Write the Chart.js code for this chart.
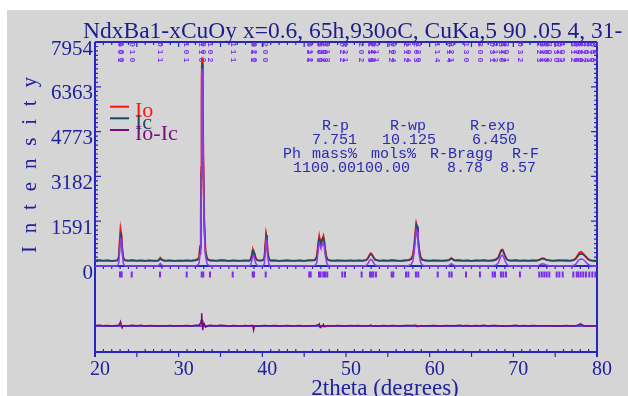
<!DOCTYPE html>
<html>
<head>
<meta charset="utf-8">
<script src="https://cdn.jsdelivr.net/npm/chart.js@4.4.0/dist/chart.umd.min.js"></script>
<style>
  html, body { margin: 0; padding: 0; background: #fff; }
  #wrap { position: absolute; left: 7px; top: 10px; width: 621px; height: 386px; background: #d5d5d5; }
</style>
</head>
<body>
<div id="wrap"><canvas id="c" width="621" height="386"></canvas></div>
<script>
'use strict';

// 2theta grid (degrees)
const tth = [
  20.0, 20.5, 21.0, 21.5, 22.0, 22.5, 22.7, 22.85, 22.95, 23.05, 23.15, 23.25, 23.35, 23.5, 23.7,
  24.0, 24.4, 25.0, 25.5, 26.0, 26.5, 27.0, 27.5, 27.65, 27.8, 27.95, 28.3, 29.0, 29.5, 30.0,
  30.5, 31.0, 31.5, 32.0, 32.3, 32.45, 32.55, 32.65, 32.7, 32.75, 32.8, 32.85, 32.9, 32.95, 33.05,
  33.2, 33.4, 33.7, 34.0, 34.5, 35.0, 35.5, 36.0, 36.5, 37.0, 37.5, 38.0, 38.4, 38.6, 38.75,
  38.85, 38.95, 39.05, 39.2, 39.4, 39.8, 40.1, 40.25, 40.35, 40.45, 40.55, 40.65, 40.8, 41.0, 41.5,
  42.0, 42.5, 43.0, 43.5, 44.0, 44.5, 45.0, 45.5, 46.0, 46.3, 46.5, 46.6, 46.7, 46.8, 46.9,
  47.0, 47.1, 47.2, 47.3, 47.4, 47.5, 47.65, 47.8, 48.0, 48.5, 49.0, 49.5, 50.0, 50.5, 51.0,
  51.5, 52.0, 52.4, 52.6, 52.8, 52.95, 53.1, 53.3, 53.5, 54.0, 54.5, 55.0, 55.5, 56.0, 56.5,
  57.0, 57.5, 57.8, 58.0, 58.15, 58.3, 58.4, 58.5, 58.6, 58.75, 58.9, 59.1, 59.5, 60.0, 60.5,
  61.0, 61.5, 62.0, 62.3, 62.45, 62.6, 62.75, 63.0, 63.5, 64.0, 64.5, 65.0, 65.5, 66.0, 66.5,
  67.0, 67.5, 67.9, 68.2, 68.4, 68.55, 68.7, 68.85, 69.0, 69.2, 69.4, 69.8, 70.3, 70.8, 71.3,
  71.8, 72.3, 72.8, 73.1, 73.3, 73.5, 73.7, 73.9, 74.3, 74.8, 75.3, 75.8, 76.3, 76.8, 77.2,
  77.5, 77.7, 77.9, 78.1, 78.3, 78.5, 78.7, 78.9, 79.2, 79.5, 80.0
];
// observed intensity Io
const iObs = [
  200, 215, 190, 205, 180, 200, 210, 330, 840, 1300, 1120, 620, 330, 215, 200,
  195, 215, 190, 205, 175, 200, 190, 185, 215, 285, 230, 190, 205, 180, 195,
  190, 200, 185, 215, 250, 320, 700, 1700, 3500, 6550, 7400, 7100, 5450, 3800, 1650,
  520, 240, 215, 205, 190, 210, 200, 175, 205, 190, 185, 200, 190, 230, 400,
  560, 420, 450, 290, 200, 195, 215, 300, 700, 1100, 900, 480, 240, 200, 205,
  180, 195, 200, 185, 190, 205, 180, 205, 200, 220, 330, 560, 850, 1050, 880,
  820, 860, 980, 1060, 870, 600, 330, 230, 200, 190, 200, 195, 185, 200, 190,
  205, 185, 215, 270, 380, 450, 410, 300, 220, 190, 205, 185, 210, 195, 180,
  200, 215, 260, 380, 700, 1200, 1500, 1380, 1000, 560, 330, 230, 200, 190, 205,
  195, 185, 200, 215, 250, 280, 240, 200, 210, 190, 205, 180, 200, 195, 210,
  185, 205, 230, 300, 450, 560, 580, 480, 360, 250, 205, 195, 210, 190, 200,
  185, 205, 195, 220, 250, 275, 260, 225, 200, 190, 205, 195, 200, 185, 210,
  280, 380, 480, 500, 450, 380, 320, 250, 200, 190, 195
];
// calculated intensity Ic
const iCalc = [
  185, 185, 184, 184, 184, 186, 195, 300, 760, 1150, 1100, 680, 320, 205, 190,
  184, 188, 183, 183, 183, 183, 183, 185, 215, 275, 220, 186, 183, 183, 183,
  183, 184, 186, 192, 220, 290, 620, 1560, 3300, 6100, 7200, 7050, 5600, 3700, 1560,
  560, 250, 190, 186, 184, 184, 184, 184, 188, 184, 184, 184, 188, 215, 380,
  540, 560, 460, 280, 200, 186, 200, 280, 680, 1080, 880, 470, 230, 190, 185,
  184, 184, 184, 184, 184, 184, 185, 192, 192, 205, 300, 520, 820, 980, 930,
  840, 880, 980, 1010, 900, 620, 340, 225, 195, 186, 185, 188, 188, 184, 184,
  185, 186, 205, 265, 370, 420, 400, 300, 215, 186, 184, 184, 195, 185, 184,
  186, 200, 240, 360, 680, 1170, 1480, 1400, 1020, 570, 320, 220, 188, 184, 184,
  186, 184, 186, 205, 240, 265, 235, 195, 186, 184, 188, 184, 184, 188, 184,
  184, 190, 215, 290, 440, 550, 570, 490, 370, 250, 200, 186, 186, 188, 184,
  184, 184, 188, 215, 245, 265, 250, 220, 195, 186, 195, 192, 184, 186, 200,
  260, 350, 420, 430, 420, 380, 320, 250, 200, 186, 184
];
// single-phase contribution without background
const iNet = [
  0, 0, 0, 0, 0, 2, 12, 118, 578, 968, 918, 498, 138, 22, 6,
  0, 4, 0, 0, 0, 0, 0, 2, 32, 92, 37, 3, 0, 0, 0,
  0, 1, 3, 9, 37, 107, 437, 1377, 3117, 5917, 7017, 6867, 5417, 3517, 1377,
  377, 67, 6, 2, 0, 0, 0, 0, 4, 0, 0, 0, 4, 31, 196,
  356, 376, 276, 96, 16, 2, 16, 96, 496, 896, 696, 286, 46, 6, 1,
  0, 0, 0, 0, 0, 0, 1, 8, 8, 21, 116, 336, 636, 796, 746,
  656, 696, 796, 826, 716, 436, 156, 41, 11, 2, 1, 4, 4, 0, 0,
  1, 2, 21, 81, 186, 236, 216, 116, 31, 2, 0, 0, 11, 1, 0,
  2, 16, 56, 176, 496, 986, 1296, 1216, 836, 386, 136, 36, 4, 0, 0,
  2, 0, 2, 21, 56, 81, 51, 11, 2, 0, 4, 0, 0, 4, 0,
  0, 6, 31, 106, 256, 366, 386, 306, 186, 66, 16, 2, 2, 4, 0,
  0, 0, 4, 31, 61, 81, 66, 36, 11, 2, 11, 8, 0, 2, 16,
  76, 166, 236, 246, 236, 196, 136, 66, 16, 2, 0
];
// difference Io-Ic
const iDiff = [
  15, 30, 6, 21, -4, 14, 15, 30, 80, 150, 20, -60, 10, 10, 10,
  11, 27, 7, 22, -8, 17, 7, 0, 0, 10, 10, 4, 22, -3, 12,
  7, 16, -1, 23, 30, 30, 80, 140, 200, 450, 200, 50, -150, 100, 90,
  -40, -10, 25, 19, 6, 26, 16, -9, 17, 6, 1, 16, 2, 15, 20,
  20, -140, -10, 10, 0, 9, 15, 20, 20, 20, 20, 10, 10, 10, 20,
  -4, 11, 16, 1, 6, 21, -5, 13, 8, 15, 30, 40, 30, 70, -50,
  -20, -20, 0, 50, -30, -20, -10, 5, 5, 4, 15, 7, -3, 16, 6,
  20, -1, 10, 5, 10, 30, 10, 0, 5, 4, 21, 1, 15, 10, -4,
  14, 15, 20, 20, 20, 30, 20, -20, -20, -10, 10, 10, 12, 6, 21,
  9, 1, 14, 10, 10, 15, 5, 5, 24, 6, 17, -4, 16, 7, 26,
  1, 15, 15, 10, 10, 10, 10, -10, -10, 0, 5, 9, 24, 2, 16,
  1, 21, 7, 5, 5, 10, 10, 5, 5, 4, 10, 3, 16, -1, 10,
  20, 30, 60, 70, 30, 0, 0, 0, 0, 4, 11
];
// Bragg reflection positions (2theta) and their index labels
const braggPos = [
  22.99, 23.19, 24.39, 27.77, 30.96, 32.75, 32.94, 33.74, 36.46, 38.85, 39.0, 40.4,
  45.61, 45.78, 46.77, 46.97, 47.29, 47.49, 47.76, 49.56, 49.88, 51.87, 52.87, 53.07,
  53.26, 53.58, 55.46, 55.65, 57.17, 57.45, 58.36, 58.64, 60.96, 62.35, 62.63, 64.34,
  66.01, 67.53, 67.81, 68.52, 68.8, 69.12, 70.79, 73.1, 73.4, 73.7, 73.98, 74.3,
  75.18, 75.5, 75.9, 77.17, 77.57, 77.76, 78.05, 78.36, 78.68, 79.08, 79.44, 79.8
];
const braggHkl = [
  '001', '100', '010', '011', '101', '110', '002', '102', '111', '012', '020', '200',
  '021', '112', '003', '120', '201', '103', '013', '022', '121', '202', '113', '210',
  '023', '211', '122', '004', '212', '104', '203', '220', '114', '014', '221', '130',
  '300', '031', '213', '310', '222', '301', '032', '123', '311', '131', '005', '302',
  '230', '024', '105', '312', '015', '132', '320', '223', '204', '313', '040', '321'
];
const yTicks = [0, 1591, 3182, 4773, 6363, 7954];
const title = 'NdxBa1-xCuOy x=0.6, 65h,930oC, CuKa,5 90 .05 4, 31-';
const legendNames = ['Io', 'Ic', 'Io-Ic'];
// R-factor block: [text, x, baseline]
const rBlock = [
  ['R-p', 315, 120], ['R-wp', 383, 120], ['R-exp', 463, 120],
  ['7.751', 305, 133.5], ['10.125', 375, 133.5], ['6.450', 465, 133.5],
  ['Ph', 276, 148], ['mass%', 305, 148], ['mols%', 364, 148], ['R-Bragg', 423, 148], ['R-F', 505, 148],
  ['1100.00100.00', 286, 162], ['8.78', 440, 162], ['8.57', 493, 162]
];

const obsRed = '#ff1414';
const calcColor = '#1f4a66';
const netViolet = '#8a3cf5';
const diffPurple = '#7a0a7a';
const braggViolet = '#7a2cf0';
const axisBlue = '#2626c0';
const textBlue = '#20209e';
const serif = "'Liberation Serif', 'DejaVu Serif', serif";

// panel geometry (canvas px)
const areaTop = 32, areaBottom = 342, upperBase = 256, diffZero = 316;
const perPx = yTicks[yTicks.length - 1] / (upperBase - areaTop);
const braggLevel = -8.5 * perPx;

const pts = (ys) => tth.map((t, i) => ({ x: t, y: ys[i] }));

const framePlugin = {
    id: 'frame',
    beforeDatasetsDraw(chart) {
        const { ctx, chartArea: a } = chart;
        const x = chart.scales.x, y = chart.scales.y;
        const base = y.getPixelForValue(0);
        const zero = chart.scales.yd.getPixelForValue(0);
        ctx.save();
        ctx.strokeStyle = axisBlue;
        ctx.lineWidth = 2;
        ctx.beginPath();
        ctx.moveTo(a.left, a.top); ctx.lineTo(a.right, a.top);
        ctx.moveTo(a.left, base); ctx.lineTo(a.right, base);
        ctx.moveTo(a.left, a.bottom); ctx.lineTo(a.right, a.bottom);
        ctx.moveTo(a.left, a.top); ctx.lineTo(a.left, a.bottom + 5);
        ctx.moveTo(a.right, a.top); ctx.lineTo(a.right, a.bottom + 5);
        ctx.stroke();
        ctx.lineWidth = 1.5;
        ctx.beginPath();
        ctx.moveTo(a.left, zero); ctx.lineTo(a.right, zero);
        ctx.stroke();
        // ticks
        ctx.lineWidth = 1.2;
        ctx.beginPath();
        for (let t = 20; t <= 80; t++) {
            const px = x.getPixelForValue(t);
            const five = t % 5 === 0;
            ctx.moveTo(px, a.top); ctx.lineTo(px, a.top + (five ? 5 : 3));
            ctx.moveTo(px, base); ctx.lineTo(px, base + 3);
            if (five) { ctx.moveTo(px, a.bottom); ctx.lineTo(px, a.bottom + 5); }
            else { ctx.moveTo(px, a.bottom); ctx.lineTo(px, a.bottom - 3); }
        }
        const top = yTicks[yTicks.length - 1];
        for (let i = 0; i <= 50; i++) {
            const py = y.getPixelForValue(i * top / 50);
            const len = i % 10 === 0 ? 6 : 3;
            ctx.moveTo(a.left, py); ctx.lineTo(a.left + len, py);
            ctx.moveTo(a.right, py); ctx.lineTo(a.right - len, py);
        }
        ctx.stroke();
        // hkl labels under the top axis, one digit per row, turned sideways
        ctx.fillStyle = braggViolet;
        ctx.font = "bold 8px 'Liberation Sans', sans-serif";
        ctx.textAlign = 'center';
        ctx.textBaseline = 'middle';
        const rows = [a.top + 2.5, a.top + 10, a.top + 18];
        braggPos.forEach((t, i) => {
            const px = x.getPixelForValue(t);
            [...braggHkl[i]].forEach((d, k) => {
                ctx.save();
                ctx.translate(px, rows[k]);
                ctx.rotate(Math.PI / 2);
                ctx.fillText(d, 0, 0);
                ctx.restore();
            });
        });
        ctx.restore();
    },
    afterDraw(chart) {
        const { ctx } = chart;
        ctx.save();
        // title
        ctx.fillStyle = '#1c1c8c';
        ctx.font = '23.5px ' + serif;
        ctx.textBaseline = 'alphabetic';
        ctx.fillText(title, 76, 27.5);
        // y title, spaced letters
        ctx.font = '21px ' + serif;
        ctx.fillStyle = textBlue;
        ctx.translate(29, 155);
        ctx.rotate(-Math.PI / 2);
        const word = 'Intensity';
        const widths = [...word].map((ch) => ctx.measureText(ch).width);
        const natural = widths.reduce((s, w) => s + w, 0);
        const gap = (176 - natural) / (word.length - 1);
        let cx = -88;
        [...word].forEach((ch, i) => {
            ctx.fillText(ch, cx, 0);
            cx += widths[i] + gap;
        });
        ctx.setTransform(1, 0, 0, 1, 0, 0);
        // legend
        const legendColors = [obsRed, calcColor, diffPurple];
        const lineY = [96.7, 108.3, 120];
        const textY = [107, 118.5, 130];
        ctx.font = '22px ' + serif;
        legendNames.forEach((name, i) => {
            ctx.strokeStyle = legendColors[i];
            ctx.lineWidth = 2;
            ctx.beginPath();
            ctx.moveTo(103, lineY[i]); ctx.lineTo(122, lineY[i]);
            ctx.stroke();
            ctx.fillStyle = legendColors[i];
            ctx.fillText(name, 128, textY[i]);
        });
        // R factors
        ctx.font = "15px 'Liberation Mono', monospace";
        ctx.fillStyle = '#2a2ab4';
        for (const [txt, tx, ty] of rBlock) ctx.fillText(txt, tx, ty);
        // x title
        ctx.font = '23px ' + serif;
        ctx.fillStyle = textBlue;
        ctx.textAlign = 'center';
        ctx.fillText('2theta (degrees)', 378, 385);
        ctx.restore();
    }
};

new Chart(document.getElementById('c'), {
    type: 'line',
    data: {
        datasets: [
            { label: 'phase', data: pts(iNet), borderColor: netViolet, borderWidth: 1.5, pointRadius: 0, yAxisID: 'y' },
            { label: 'Ic', data: pts(iCalc), borderColor: calcColor, borderWidth: 1.5, pointRadius: 0, yAxisID: 'y' },
            { label: 'Io', data: pts(iObs), borderColor: obsRed, borderWidth: 2, pointRadius: 0, yAxisID: 'y' },
            { label: 'Io-Ic', data: pts(iDiff), borderColor: diffPurple, borderWidth: 1.5, pointRadius: 0, yAxisID: 'yd' },
            {
                label: 'hkl',
                data: braggPos.map((t) => ({ x: t, y: braggLevel })),
                showLine: false,
                pointStyle: 'line',
                pointRotation: 90,
                pointRadius: 3,
                pointBorderWidth: 2,
                pointBorderColor: braggViolet,
                yAxisID: 'y',
            },
        ],
    },
    options: {
        responsive: false,
        animation: false,
        layout: { padding: { left: 0, top: areaTop, right: 31, bottom: 0 } },
        plugins: { legend: { display: false }, tooltip: { enabled: false } },
        scales: {
            x: {
                type: 'linear',
                min: 20,
                max: 80,
                grid: { display: false, drawTicks: false },
                border: { display: false },
                ticks: {
                    stepSize: 10,
                    maxRotation: 0,
                    autoSkip: false,
                    labelOffset: 5,
                    padding: 6,
                    color: textBlue,
                    font: { family: serif, size: 20 },
                },
                afterFit(scale) { scale.height = 386 - areaBottom; },
            },
            y: {
                min: -(areaBottom - upperBase) * perPx,
                max: yTicks[yTicks.length - 1],
                grid: { display: false, drawTicks: false },
                border: { display: false },
                afterBuildTicks(scale) { scale.ticks = yTicks.map((v) => ({ value: v })); },
                ticks: {
                    callback: (v) => String(v),
                    labelOffset: 7,
                    padding: 2,
                    color: textBlue,
                    font: { family: serif, size: 21 },
                },
                afterFit(scale) { scale.width = 88; },
            },
            yd: {
                display: false,
                min: -(areaBottom - diffZero) * perPx,
                max: (diffZero - areaTop) * perPx,
            },
        },
    },
    plugins: [framePlugin],
});
</script>
</body>
</html>
